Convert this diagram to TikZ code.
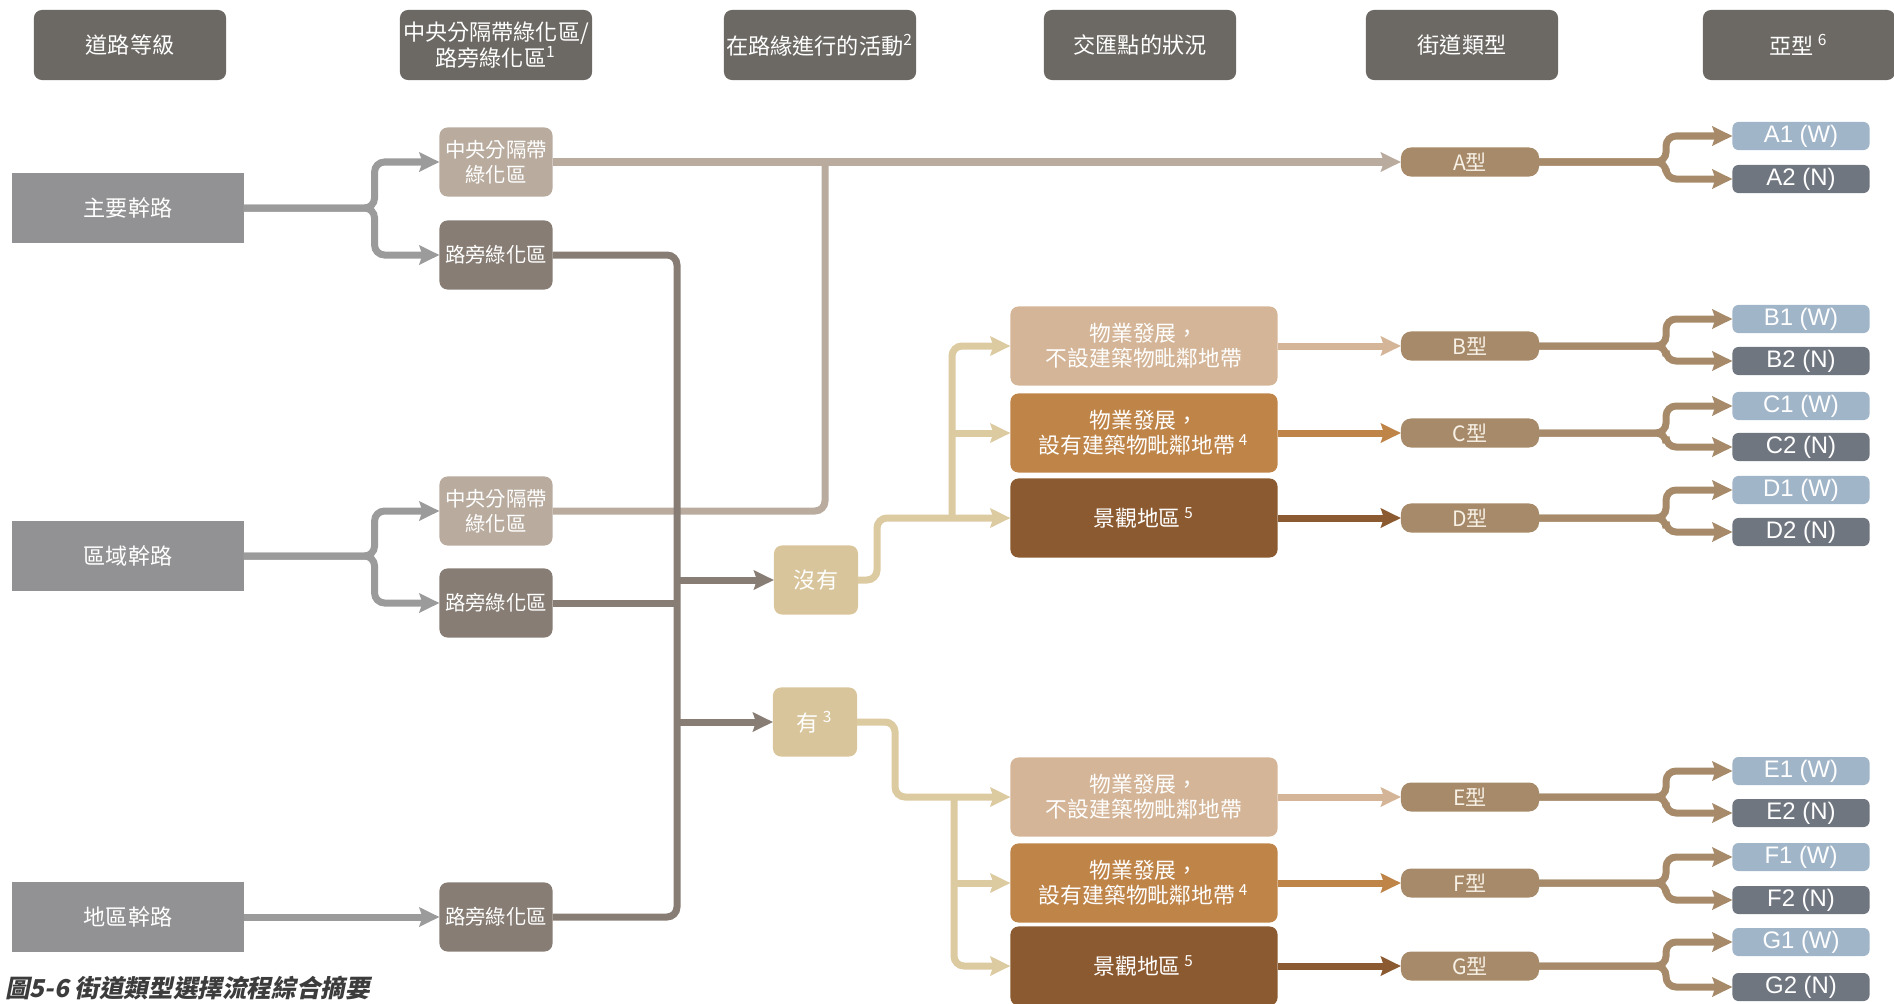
\documentclass[tikz,border=0pt]{standalone}
\usepackage{fontspec}
\setmainfont{Noto Sans CJK TC}
\newfontfamily\ltnfont{Liberation Sans}
\newfontfamily\capfont{Noto Sans CJK TC}[FakeSlant=0.2]
\usetikzlibrary{arrows.meta}
\definecolor{hdgray}{HTML}{6C6964}
\definecolor{rdgray}{HTML}{929294}
\definecolor{gline}{HTML}{9B9B9B}
\definecolor{ctr}{HTML}{B9AC9F}
\definecolor{side}{HTML}{877D74}
\definecolor{tanbox}{HTML}{D9C59B}
\definecolor{tanline}{HTML}{DCCAA1}
\definecolor{propL}{HTML}{D4B597}
\definecolor{propM}{HTML}{BF8448}
\definecolor{propD}{HTML}{8C5A31}
\definecolor{typ}{HTML}{A68A6A}
\definecolor{typtext}{HTML}{F8F1E6}
\definecolor{subW}{HTML}{A1B5C9}
\definecolor{subN}{HTML}{6F7680}
\definecolor{capgray}{HTML}{3C3C3C}

\begin{document}
\begin{tikzpicture}[x=0.01cm,y=-0.01cm,line width=0.07cm,
	every node/.style={outer sep=0pt,inner sep=0pt},
	arr/.style={-{Stealth[length=0.2cm,width=0.19cm,inset=0.03cm]}},
	hd/.style={fill=hdgray,rounded corners=0.08cm,minimum width=1.92cm,minimum height=0.7cm,text=white,align=center,font=\fontsize{6.3}{7.2}\selectfont},
	rd/.style={fill=rdgray,minimum width=2.31cm,minimum height=0.7cm,text=white,font=\fontsize{6.3}{7.2}\selectfont},
	gz/.style={rounded corners=0.08cm,minimum width=1.13cm,minimum height=0.69cm,text=white,align=center,font=\fontsize{5.8}{7.1}\selectfont},
	jn/.style={fill=tanbox,rounded corners=0.08cm,minimum width=0.84cm,minimum height=0.69cm,text=white,font=\fontsize{6.3}{7.2}\selectfont},
	pb/.style={rounded corners=0.08cm,minimum width=2.67cm,minimum height=0.79cm,text=white,align=center,font=\fontsize{6.2}{7.2}\selectfont},
	ty/.style={fill=typ,rounded corners=0.1cm,minimum width=1.38cm,minimum height=0.29cm,text=typtext,font=\fontsize{6}{7}\selectfont},
	sb/.style={rounded corners=0.06cm,minimum width=1.37cm,minimum height=0.28cm,text=white,font=\ltnfont\fontsize{6.8}{7}\selectfont},
	fk/.style={arr,draw=typ,rounded corners=0.1cm}]
	\useasboundingbox (0,0) rectangle (1894,1003);

	\node (H1) [hd] at (130,45) {道路等級};
	\node (H2) [hd] at (496,45) {中央分隔帶綠化區/\\路旁綠化區\textsuperscript{1}};
	\node (H3) [hd] at (820,45) {在路緣進行的活動\textsuperscript{2}};
	\node (H4) [hd] at (1140,45) {交匯點的狀況};
	\node (H5) [hd] at (1462,45) {街道類型};
	\node (H6) [hd] at (1799,45) {亞型\,\textsuperscript{6}};

	\node (P1) [rd] at (128,208) {主要幹路};
	\node (P2) [rd] at (128,556) {區域幹路};
	\node (P3) [rd] at (128,917) {地區幹路};

	\node (c1) [gz,fill=ctr] at (496,162) {中央分隔帶\\綠化區};
	\node (s1) [gz,fill=side] at (496,255) {路旁綠化區};
	\node (c2) [gz,fill=ctr] at (496,511) {中央分隔帶\\綠化區};
	\node (s2) [gz,fill=side] at (496,603) {路旁綠化區};
	\node (s3) [gz,fill=side] at (496,917) {路旁綠化區};

	\node (n0) [jn] at (816,580) {沒有};
	\node (n1) [jn] at (815,722) {有\,\textsuperscript{3}};

	\node (b) [pb,fill=propL] at (1144,346) {物業發展，\\不設建築物毗鄰地帶};
	\node (c) [pb,fill=propM] at (1144,433) {物業發展，\\設有建築物毗鄰地帶\,\textsuperscript{4}};
	\node (d) [pb,fill=propD] at (1144,518) {景觀地區\,\textsuperscript{5}};
	\node (e) [pb,fill=propL] at (1144,797) {物業發展，\\不設建築物毗鄰地帶};
	\node (f) [pb,fill=propM] at (1144,883) {物業發展，\\設有建築物毗鄰地帶\,\textsuperscript{4}};
	\node (g) [pb,fill=propD] at (1144,966) {景觀地區\,\textsuperscript{5}};

	\node (tA) [ty] at (1470,162) {A型};
	\node (tB) [ty] at (1470,346) {B型};
	\node (tC) [ty] at (1470,433) {C型};
	\node (tD) [ty] at (1470,518) {D型};
	\node (tE) [ty] at (1470,797) {E型};
	\node (tF) [ty] at (1470,883) {F型};
	\node (tG) [ty] at (1470,966) {G型};

	\node (A1) [sb,fill=subW] at (1801,136) {A1 (W)};
	\node (A2) [sb,fill=subN] at (1801,179) {A2 (N)};
	\node (B1) [sb,fill=subW] at (1801,319) {B1 (W)};
	\node (B2) [sb,fill=subN] at (1801,361) {B2 (N)};
	\node (C1) [sb,fill=subW] at (1801,406) {C1 (W)};
	\node (C2) [sb,fill=subN] at (1801,447) {C2 (N)};
	\node (D1) [sb,fill=subW] at (1801,490) {D1 (W)};
	\node (D2) [sb,fill=subN] at (1801,532) {D2 (N)};
	\node (E1) [sb,fill=subW] at (1801,771) {E1 (W)};
	\node (E2) [sb,fill=subN] at (1801,813) {E2 (N)};
	\node (F1) [sb,fill=subW] at (1801,857) {F1 (W)};
	\node (F2) [sb,fill=subN] at (1801,900) {F2 (N)};
	\node (G1) [sb,fill=subW] at (1801,942) {G1 (W)};
	\node (G2) [sb,fill=subN] at (1801,987) {G2 (N)};

	\node (cap) [anchor=west,text=capgray,font=\capfont\bfseries\fontsize{7}{8}\selectfont] at (5,988) {圖5-6 街道類型選擇流程綜合摘要};

	\coordinate (jA) at (825,162);
	\coordinate (tr) at (677,917);
	\coordinate (k0) at (952,518);
	\coordinate (k1) at (954,797);

	\draw[arr,draw=gline,rounded corners=0.1cm] (P1.east) -- ++(131,0) |- (c1.west);
	\draw[arr,draw=gline,rounded corners=0.1cm] (P1.east) -- ++(131,0) |- (s1.west);
	\draw[arr,draw=gline,rounded corners=0.1cm] (P2.east) -- ++(131,0) |- (c2.west);
	\draw[arr,draw=gline,rounded corners=0.1cm] (P2.east) -- ++(131,0) |- (s2.west);
	\draw[arr,draw=gline] (P3.east) -- (s3.west);

	\draw[arr,draw=ctr] (c1.east) -- (tA.west);
	\draw[draw=ctr,rounded corners=0.1cm] (c2.east) -| (jA);

	\draw[draw=side,rounded corners=0.1cm] (s1.east) -| (tr) -- (s3.east);
	\draw[draw=side] (s2.east) -- (s2.east -| tr);
	\draw[arr,draw=side] (tr |- n0.west) -- (n0.west);
	\draw[arr,draw=side] (tr |- n1.west) -- (n1.west);

	\draw[arr,draw=tanline,rounded corners=0.1cm] (n0.east) -- ++(19,0) |- (d.west);
	\draw[arr,draw=tanline,rounded corners=0.1cm] (k0) |- (b.west);
	\draw[arr,draw=tanline] (k0 |- c.west) -- (c.west);
	\draw[arr,draw=tanline,rounded corners=0.1cm] (n1.east) -- ++(38,0) |- (e.west);
	\draw[arr,draw=tanline,rounded corners=0.1cm] (k1) |- (g.west);
	\draw[arr,draw=tanline] (k1 |- f.west) -- (f.west);

	\draw[arr,draw=propL] (b.east) -- (tB.west);
	\draw[arr,draw=propM] (c.east) -- (tC.west);
	\draw[arr,draw=propD] (d.east) -- (tD.west);
	\draw[arr,draw=propL] (e.east) -- (tE.west);
	\draw[arr,draw=propM] (f.east) -- (tF.west);
	\draw[arr,draw=propD] (g.east) -- (tG.west);

	\draw[fk] (tA.east) -- ++(127,0) |- (A1.west);
	\draw[fk] (tA.east) -- ++(127,0) |- (A2.west);
	\draw[fk] (tB.east) -- ++(127,0) |- (B1.west);
	\draw[fk] (tB.east) -- ++(127,0) |- (B2.west);
	\draw[fk] (tC.east) -- ++(127,0) |- (C1.west);
	\draw[fk] (tC.east) -- ++(127,0) |- (C2.west);
	\draw[fk] (tD.east) -- ++(127,0) |- (D1.west);
	\draw[fk] (tD.east) -- ++(127,0) |- (D2.west);
	\draw[fk] (tE.east) -- ++(127,0) |- (E1.west);
	\draw[fk] (tE.east) -- ++(127,0) |- (E2.west);
	\draw[fk] (tF.east) -- ++(127,0) |- (F1.west);
	\draw[fk] (tF.east) -- ++(127,0) |- (F2.west);
	\draw[fk] (tG.east) -- ++(127,0) |- (G1.west);
	\draw[fk] (tG.east) -- ++(127,0) |- (G2.west);
\end{tikzpicture}
\end{document}
